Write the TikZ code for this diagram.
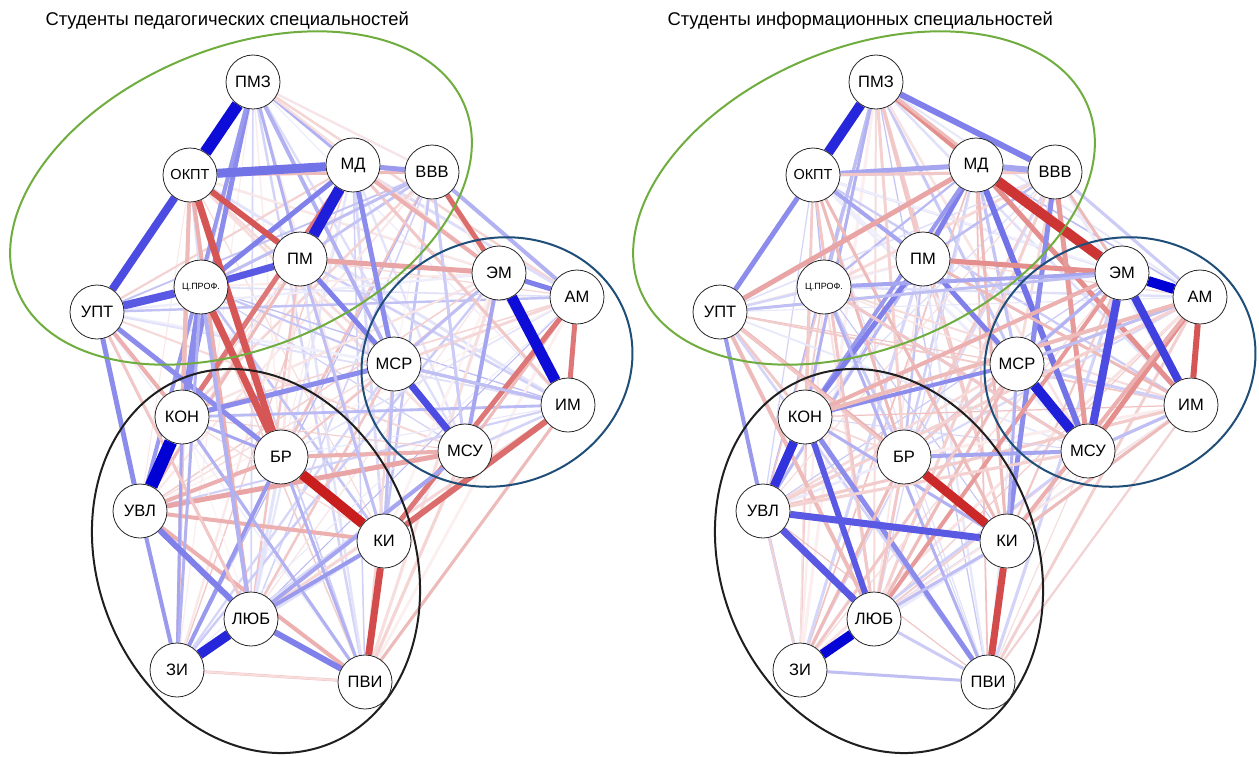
\documentclass[tikz,border=0pt]{standalone}
\usepackage{fontspec}
\setmainfont{Liberation Sans}
\definecolor{qb}{HTML}{0000D5}
\definecolor{qr}{HTML}{C81E1E}
\definecolor{elgreen}{HTML}{6FAD3F}
\definecolor{elblue}{HTML}{1F4E79}
\pgfdeclarelayer{bg}
\pgfdeclarelayer{mid}
\pgfsetlayers{bg,mid,main}
\tikzset{
  nd/.style={circle, draw=black!85, line width=0.8pt, fill=white, minimum size=54pt, inner sep=0pt, font=\fontsize{16.5}{18}\selectfont},
  ttl/.style={anchor=base west, font=\fontsize{18.4}{20}\selectfont},
  grp/.style={line width=2pt}
}
\newcommand\ed[4]{\draw[line width=#4pt,draw=#3] (#1) -- (#2);}
\newcommand\placenodes{%
  \node[nd] (pmz) at (253,82) {ПМЗ};
  \node[nd, font=\fontsize{14.5}{16}\selectfont] (okpt) at (190,175) {ОКПТ};
  \node[nd] (md) at (353,165) {МД};
  \node[nd] (vvv) at (432,172) {ВВВ};
  \node[nd] (pm) at (300,259) {ПМ};
  \node[nd, font=\fontsize{9}{10}\selectfont] (cpr) at (201,287) {Ц.ПРОФ.};
  \node[nd] (upt) at (97,312) {УПТ};
  \node[nd] (em) at (499,273) {ЭМ};
  \node[nd] (am) at (577,297) {АМ};
  \node[nd] (msr) at (394,364) {МСР};
  \node[nd] (im) at (568,405) {ИМ};
  \node[nd] (kon) at (182,417) {КОН};
  \node[nd] (br) at (281,457) {БР};
  \node[nd] (msu) at (465,451) {МСУ};
  \node[nd] (uvl) at (140,511) {УВЛ};
  \node[nd] (ki) at (384,541) {КИ};
  \node[nd] (lyub) at (251,619) {ЛЮБ};
  \node[nd] (zi) at (177,670) {ЗИ};
  \node[nd] (pvi) at (365,682) {ПВИ};
}
\newcommand\placegroups{%
  \begin{pgfonlayer}{mid}
  \draw[grp, elgreen, rotate around={22.5:(241,198)}] (241,198) ellipse [x radius=242pt, y radius=150pt];
  \draw[grp, elblue, rotate around={20:(497,362)}] (497,362) ellipse [x radius=137pt, y radius=123pt];
  \draw[grp, black!88, rotate around={22:(256,561)}] (256,561) ellipse [x radius=158pt, y radius=197pt];
  \end{pgfonlayer}
}
\def\nodelist{pmz,okpt,md,vvv,pm,cpr,upt,em,am,msr,im,kon,br,msu,uvl,ki,lyub,zi,pvi}
\newcommand\faintedges{%
  \foreach \a [count=\i] in \nodelist {
    \foreach \b [count=\j] in \nodelist {
      \ifnum\j>\i
        \pgfmathsetmacro\rc{rnd}
        \pgfmathsetmacro\rw{1+2.2*rnd}
        \pgfmathtruncatemacro\rp{6+22*rnd}
        \ifdim\rc pt<0.5pt \def\rcol{qb}\else\def\rcol{qr}\fi
        \draw[line width=\rw pt, draw=\rcol!\rp] (\a) -- (\b);
      \fi
    }
  }
}
\begin{document}
\begin{tikzpicture}[x=1pt,y=-1pt]
\begin{pgfonlayer}{bg}
\fill[white] (0,0) rectangle (1259,756);
\end{pgfonlayer}
\useasboundingbox (0,0) rectangle (1259,756);

\node[ttl] (t1) at (42,25) {Студенты педагогических специальностей};
\node[ttl] (t2) at (664,25) {Студенты информационных специальностей};

% ---------------- left graph ----------------
\begin{scope}[name prefix=L-]
\placenodes
\placegroups
\begin{pgfonlayer}{bg}
\pgfmathsetseed{11}
\faintedges
\ed{pmz}{md}{qb!30}{3}
\ed{pmz}{pm}{qb!30}{3}
\ed{pmz}{msr}{qb!30}{4}
\ed{pmz}{kon}{qb!45}{5}
\ed{pmz}{uvl}{qb!40}{4}
\ed{pmz}{vvv}{qr!12}{2}
\ed{pmz}{em}{qr!15}{2}
\ed{okpt}{vvv}{qr!30}{3}
\ed{okpt}{lyub}{qr!35}{4}
\ed{okpt}{zi}{qr!25}{3}
\ed{okpt}{kon}{qr!30}{4}
\ed{md}{em}{qr!35}{4}
\ed{md}{im}{qr!25}{3}
\ed{md}{kon}{qr!60}{5}
\ed{vvv}{am}{qb!30}{4}
\ed{vvv}{em}{qr!65}{5}
\ed{vvv}{cpr}{qb!25}{3}
\ed{vvv}{msu}{qb!20}{3}
\ed{pm}{em}{qr!40}{5}
\ed{pm}{uvl}{qr!30}{3}
\ed{em}{msu}{qb!35}{4}
\ed{em}{msr}{qb!25}{3}
\ed{msr}{ki}{qb!25}{3}
\ed{am}{msu}{qr!30}{3}
\ed{am}{ki}{qr!60}{5}
\ed{im}{ki}{qr!65}{6}
\ed{im}{pvi}{qr!30}{3}
\ed{im}{msr}{qb!25}{3}
\ed{msu}{uvl}{qr!40}{5}
\ed{msu}{br}{qr!35}{4}
\ed{uvl}{br}{qr!35}{4}
\ed{uvl}{ki}{qr!35}{4}
\ed{uvl}{pvi}{qr!35}{4}
\ed{uvl}{zi}{qb!40}{4}
\ed{kon}{zi}{qb!35}{3}
\ed{kon}{br}{qb!35}{3}
\ed{kon}{pvi}{qb!30}{3}
\ed{kon}{msr}{qb!45}{5}
\ed{br}{zi}{qb!40}{4}
\ed{br}{pvi}{qb!30}{3}
\ed{lyub}{ki}{qb!40}{4}
\ed{lyub}{msu}{qb!35}{4}
\ed{zi}{pvi}{qr!15}{2}
\ed{upt}{uvl}{qb!45}{5}
\ed{upt}{br}{qb!45}{5}
\ed{upt}{kon}{qr!35}{4}
\ed{upt}{lyub}{qr!25}{3}
\ed{cpr}{lyub}{qb!30}{4}
\ed{cpr}{kon}{qb!45}{5}
\ed{cpr}{zi}{qb!30}{3}
\ed{pm}{ki}{qb!25}{3}
\ed{md}{cpr}{qb!50}{5}
\ed{pm}{msr}{qb!50}{5}
\ed{md}{msr}{qb!45}{5}
\ed{md}{vvv}{qb!40}{5}
\ed{em}{am}{qb!50}{5}
\ed{am}{im}{qr!60}{5}
\ed{lyub}{pvi}{qb!50}{6}
\ed{uvl}{lyub}{qb!50}{6}
\ed{okpt}{pm}{qr!75}{6}
\ed{ki}{pvi}{qr!80}{7}
\ed{okpt}{br}{qr!75}{7}
\ed{cpr}{br}{qr!75}{7}
\ed{msr}{msu}{qb!70}{7}
\ed{cpr}{pm}{qb!65}{7}
\ed{upt}{cpr}{qb!65}{8}
\ed{okpt}{upt}{qb!70}{8}
\ed{okpt}{md}{qb!55}{9}
\ed{zi}{lyub}{qb!85}{10}
\ed{br}{ki}{qr!100}{10}
\ed{md}{pm}{qb!88}{11}
\ed{em}{im}{qb!95}{11}
\ed{pmz}{okpt}{qb!95}{12}
\ed{kon}{uvl}{qb!100}{13}
\end{pgfonlayer}
\end{scope}

% ---------------- right graph ----------------
\begin{scope}[xshift=623pt, name prefix=R-]
\placenodes
\placegroups
\begin{pgfonlayer}{bg}
\pgfmathsetseed{29}
\faintedges
\ed{pmz}{md}{qr!50}{5}
\ed{pmz}{vvv}{qb!50}{6}
\ed{pmz}{em}{qr!30}{3}
\ed{pmz}{pm}{qr!25}{3}
\ed{pmz}{cpr}{qb!25}{3}
\ed{pmz}{kon}{qb!30}{3}
\ed{pmz}{br}{qr!20}{3}
\ed{okpt}{md}{qb!35}{5}
\ed{okpt}{vvv}{qr!25}{3}
\ed{okpt}{upt}{qb!45}{5}
\ed{okpt}{pm}{qb!35}{4}
\ed{okpt}{br}{qr!30}{3}
\ed{okpt}{ki}{qr!30}{3}
\ed{okpt}{lyub}{qr!25}{3}
\ed{md}{vvv}{qb!35}{6}
\ed{md}{upt}{qr!40}{5}
\ed{md}{pm}{qb!50}{5}
\ed{md}{msu}{qb!55}{6}
\ed{md}{im}{qr!50}{5}
\ed{md}{ki}{qr!30}{3}
\ed{md}{kon}{qb!40}{4}
\ed{vvv}{ki}{qb!45}{5}
\ed{vvv}{msu}{qr!45}{5}
\ed{vvv}{em}{qr!30}{3}
\ed{vvv}{am}{qb!20}{3}
\ed{pm}{em}{qr!50}{5}
\ed{pm}{msr}{qb!50}{5}
\ed{pm}{kon}{qb!50}{5}
\ed{pm}{im}{qr!30}{3}
\ed{cpr}{em}{qb!35}{4}
\ed{cpr}{pvi}{qb!30}{3}
\ed{cpr}{msu}{qr!25}{3}
\ed{upt}{uvl}{qb!40}{4}
\ed{upt}{em}{qb!25}{3}
\ed{upt}{lyub}{qr!30}{4}
\ed{upt}{br}{qr!35}{4}
\ed{upt}{ki}{qr!25}{3}
\ed{em}{lyub}{qr!45}{4}
\ed{em}{kon}{qr!35}{4}
\ed{em}{msr}{qb!30}{3}
\ed{am}{msu}{qr!50}{5}
\ed{am}{ki}{qr!35}{4}
\ed{am}{msr}{qb!25}{3}
\ed{am}{uvl}{qr!20}{3}
\ed{msr}{ki}{qb!30}{3}
\ed{msr}{kon}{qb!45}{4}
\ed{msr}{lyub}{qr!30}{3}
\ed{im}{msu}{qb!25}{3}
\ed{im}{ki}{qr!30}{3}
\ed{im}{pvi}{qr!20}{2}
\ed{kon}{am}{qr!30}{4}
\ed{kon}{pvi}{qb!45}{5}
\ed{kon}{ki}{qb!30}{3}
\ed{br}{msu}{qb!35}{4}
\ed{br}{zi}{qr!30}{3}
\ed{br}{lyub}{qr!25}{3}
\ed{uvl}{msu}{qr!20}{3}
\ed{uvl}{zi}{qr!20}{2}
\ed{lyub}{pvi}{qb!20}{3}
\ed{lyub}{ki}{qb!25}{3}
\ed{zi}{pvi}{qb!25}{3}
\ed{zi}{msr}{qr!25}{3}
\ed{kon}{lyub}{qb!65}{6}
\ed{uvl}{lyub}{qb!65}{7}
\ed{uvl}{ki}{qb!65}{7}
\ed{am}{im}{qr!75}{6}
\ed{ki}{pvi}{qr!80}{7}
\ed{em}{msu}{qb!70}{8}
\ed{em}{im}{qb!75}{8}
\ed{kon}{uvl}{qb!80}{9}
\ed{br}{ki}{qr!95}{9}
\ed{pmz}{okpt}{qb!85}{10}
\ed{md}{em}{qr!90}{10}
\ed{msr}{msu}{qb!88}{10}
\ed{zi}{lyub}{qb!98}{10}
\ed{em}{am}{qb!100}{10}
\end{pgfonlayer}
\end{scope}
\end{tikzpicture}
\end{document}
